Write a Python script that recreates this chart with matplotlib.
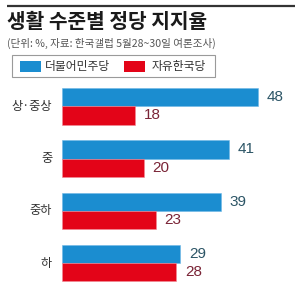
import matplotlib
matplotlib.use("Agg")
import matplotlib.pyplot as plt
from matplotlib.patches import Rectangle
from matplotlib.lines import Line2D

plt.rcParams['font.family'] = ['Noto Sans CJK KR', 'DejaVu Sans']

categories = ['상·중상', '중', '중하', '하']
minju = [48, 41, 39, 29]
hanguk = [18, 20, 23, 28]
series_names = ['더불어민주당', '자유한국당']
title = '생활 수준별 정당 지지율'
subtitle = '(단위: %, 자료: 한국갤럽 5월28~30일 여론조사)'

BLUE = '#1b8dd0'
RED = '#e30418'
W, H = 300, 288
fig = plt.figure(figsize=(W/100, H/100), dpi=100)
fig.patch.set_facecolor('white')

# top rule
fig.add_artist(Line2D([7/W, 295/W], [1 - 5.5/H, 1 - 5.5/H], transform=fig.transFigure,
                      color='#333333', lw=1.6, solid_capstyle='butt', zorder=10))

# overlay axes in pixel coords for decorations
ov = fig.add_axes([0, 0, 1, 1])
ov.set_xlim(0, W); ov.set_ylim(H, 0); ov.axis('off')
ov.text(7, 21, title, fontsize=14.6, fontweight='bold', color='#1a1a1a', va='center', ha='left')
ov.text(7, 43, subtitle, fontsize=7.6, color='#555555', va='center', ha='left')
ov.add_patch(Rectangle((12, 55), 203, 22, fill=False, ec='#9a9a9a', lw=0.8))
ov.add_patch(Rectangle((20, 61), 21, 11, fc=BLUE, ec='none'))
ov.text(45, 66.5, series_names[0], fontsize=8.5, color='#333333', va='center', ha='left')
ov.add_patch(Rectangle((124, 61), 21, 11, fc=RED, ec='none'))
ov.text(152, 66.5, series_names[1], fontsize=8.5, color='#333333', va='center', ha='left')

# bar axes
left_px, right_px = 62, 295
ax = fig.add_axes([left_px/W, 0, (right_px-left_px)/W, 1])
ax.set_xlim(0, (right_px-left_px)/4.08)
ax.set_ylim(H, 0)
ax.axis('off')
ax.patch.set_alpha(0)

bh = 18.3
first_center = 106.3
step = 52.3
for i, cat in enumerate(categories):
    c = first_center + i*step
    ax.barh(c - bh/2, minju[i], height=bh, color=BLUE, edgecolor='#6fb8e6', linewidth=0.4)
    ax.barh(c + bh/2, hanguk[i], height=bh, color=RED, edgecolor='#f08a96', linewidth=0.4)
    ax.text(minju[i] + 2.1, c - bh/2, str(minju[i]), fontsize=11, color='#2c5566', va='center', ha='left', family=['Liberation Sans'])
    ax.text(hanguk[i] + 2.1, c + bh/2, str(hanguk[i]), fontsize=11, color='#7a2436', va='center', ha='left', family=['Liberation Sans'])
    ax.text(-2.4, c, cat, fontsize=8.8, color='#333333', va='center', ha='right')

fig.savefig('out.png', dpi=100, facecolor='white')
